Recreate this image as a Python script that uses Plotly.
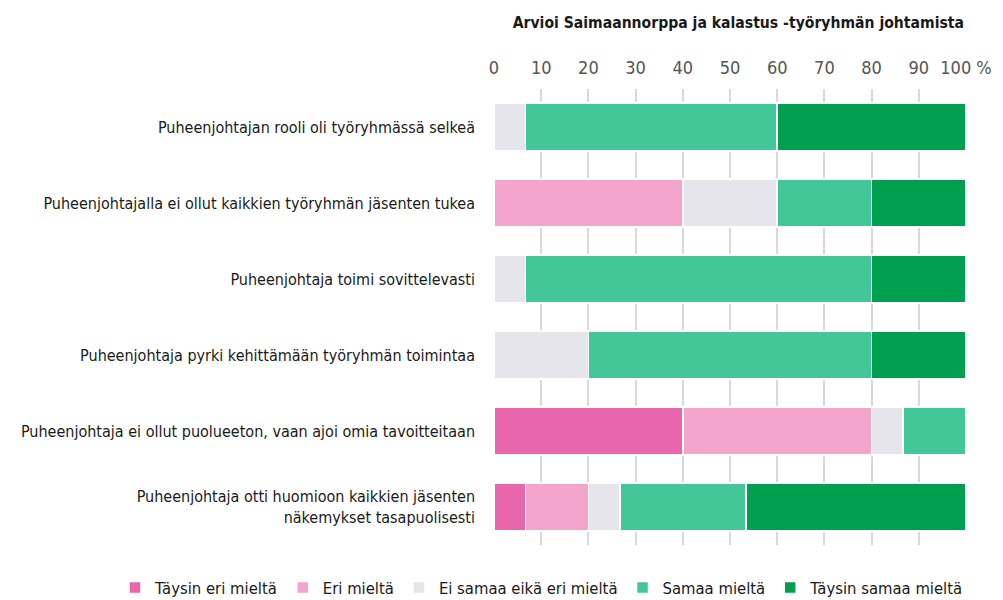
import plotly.graph_objects as go

categories = [
    "Puheenjohtajan rooli oli työryhmässä selkeä",
    "Puheenjohtajalla ei ollut kaikkien työryhmän jäsenten tukea",
    "Puheenjohtaja toimi sovittelevasti",
    "Puheenjohtaja pyrki kehittämään työryhmän toimintaa",
    "Puheenjohtaja ei ollut puolueeton, vaan ajoi omia tavoitteitaan",
    "Puheenjohtaja otti huomioon kaikkien jäsenten<br>näkemykset tasapuolisesti",
]
series_names = ["Täysin eri mieltä", "Eri mieltä", "Ei samaa eikä eri mieltä",
                "Samaa mieltä", "Täysin samaa mieltä"]
taysin_eri = [0, 0, 0, 0, 40.0, 6.67]
eri = [0, 40.0, 0, 0, 40.0, 13.33]
neutral = [6.67, 20.0, 6.67, 20.0, 6.67, 6.67]
samaa = [53.33, 20.0, 73.33, 60.0, 13.33, 26.67]
taysin_samaa = [40.0, 20.0, 20.0, 20.0, 0, 46.67]
colors = ["#E766AC", "#F4A5CC", "#E7E5EC", "#43C799", "#00A050"]
tick_vals = [0, 10, 20, 30, 40, 50, 60, 70, 80, 90, 100]
tick_text = ["0", "10", "20", "30", "40", "50", "60", "70", "80", "90", "100 %"]

FONT = "DejaVu Sans Condensed, Liberation Sans Narrow, Roboto, sans-serif"

fig = go.Figure()
for name, vals, col in zip(series_names, [taysin_eri, eri, neutral, samaa, taysin_samaa], colors):
    fig.add_trace(go.Bar(
        y=categories, x=vals, name=name, orientation="h",
        marker=dict(color=col, line=dict(color="white", width=1.5)),
    ))

# the page body adds an 8px offset, so the figure is drawn 8px smaller
fig.update_layout(
    barmode="stack",
    width=995, height=592,
    margin=dict(l=486, r=37, t=81, b=55, autoexpand=False),
    paper_bgcolor="white", plot_bgcolor="white",
    font=dict(family=FONT, size=16, color="#1a1a1a"),
    bargap=0.37,
    title=dict(text="<b>Arvioi Saimaannorppa ja kalastus -työryhmän johtamista</b>",
               x=0.734, xanchor="center", y=0.976, yanchor="middle",
               font=dict(size=15.6, family=FONT, color="#1a1a1a")),
    xaxis=dict(side="top", range=[0, 100], tickvals=tick_vals, ticktext=tick_text,
               showgrid=True, gridcolor="#D9D9D9", gridwidth=1.5, zeroline=False,
               tickfont=dict(size=18, color="#555555"), ticks="", ticklabelstandoff=10,
               automargin=False, fixedrange=True),
    yaxis=dict(autorange="reversed", showgrid=False, ticks="", ticklabelstandoff=18,
               automargin=False, tickfont=dict(size=16, color="#1a1a1a")),
    legend=dict(orientation="h", x=-0.803, xanchor="left", y=-0.094, yanchor="middle",
                traceorder="normal", font=dict(size=16.5, color="#1a1a1a"),
                itemwidth=30),
)
fig.write_html("out.html")
